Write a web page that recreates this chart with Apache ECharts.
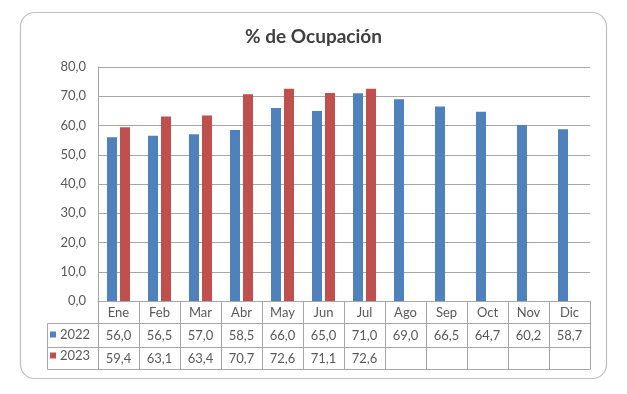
<!DOCTYPE html>
<html><head><meta charset="utf-8">
<script src="https://cdn.jsdelivr.net/npm/echarts@6/dist/echarts.min.js"></script>
<style>html,body{margin:0;padding:0;background:#fff}#c{width:627px;height:394px}</style>
</head><body><div id="c"></div>
<script>
const categories = ['Ene','Feb','Mar','Abr','May','Jun','Jul','Ago','Sep','Oct','Nov','Dic'];
const seriesNames = ['2022','2023'];
const values2022 = [56.0,56.5,57.0,58.5,66.0,65.0,71.0,69.0,66.5,64.7,60.2,58.7];
const values2023 = [59.4,63.1,63.4,70.7,72.6,71.1,72.6,null,null,null,null,null];
const yTicks = {min:0, max:80, interval:10};

const W = 627, H = 394;
const G = {left:98, right:37, top:67, bottom:93};
const rowH = 23;
const tableLeft = 47;
const FONT = 'Lato';
const TXT = '#595959';
const LINE = '#a6a6a6';
const fmt = v => (v == null || v === '') ? '' : Number(v).toFixed(1).replace('.', ',');

const chart = echarts.init(document.getElementById('c'), null, {renderer:'canvas'});
const axisY = H - G.bottom;
const gx0 = G.left, gx1 = W - G.right;

const tableLines = [
  [tableLeft, axisY + rowH - 1, gx1, axisY + rowH - 1],
  [tableLeft, axisY + 2*rowH, gx1, axisY + 2*rowH],
  [tableLeft, axisY + 3*rowH - 1, gx1, axisY + 3*rowH - 1],
  [tableLeft, axisY + rowH - 1, tableLeft, axisY + 3*rowH - 1]
].map(p => ({type:'line', silent:true, shape:{x1:p[0]+0.5,y1:p[1]+0.5,x2:p[2]+0.5,y2:p[3]+0.5}, style:{stroke:LINE, lineWidth:1}}));

function valueAxis(vals, off){
  return {
    type:'category', data: categories, position:'bottom', offset: off, gridIndex:0,
    axisLine:{show:false}, axisTick:{show:false}, splitLine:{show:false},
    axisLabel:{interval:0, margin:5, color:TXT, fontFamily:FONT, fontSize:13,
      formatter:(v, i) => fmt(vals[i])}
  };
}

chart.setOption({
  animation:false,
  backgroundColor:'#fff',
  title:{text:'% de Ocupación', left:'center', top:22,
    textStyle:{fontFamily:FONT, fontSize:19, fontWeight:'bold', color:'#404040'}},
  legend:{orient:'vertical', left:45, top:axisY + rowH - 1, itemWidth:6, itemHeight:6, itemGap:8,
    icon:'rect', data:seriesNames,
    textStyle:{fontFamily:FONT, fontSize:13, color:TXT, padding:[0,0,0,-1]}},
  grid:{left:G.left, right:G.right, top:G.top, bottom:G.bottom, containLabel:false},
  xAxis:[
    {type:'category', data:categories, position:'bottom',
      axisLine:{show:true, lineStyle:{color:LINE}},
      axisTick:{show:true, interval:0, length:3*rowH - 1, lineStyle:{color:LINE}},
      axisLabel:{interval:0, margin:5, color:TXT, fontFamily:FONT, fontSize:13}},
    valueAxis(values2022, rowH),
    valueAxis(values2023, 2*rowH)
  ],
  yAxis:{type:'value', min:yTicks.min, max:yTicks.max, interval:yTicks.interval,
    axisLine:{show:true, lineStyle:{color:LINE}}, axisTick:{show:false},
    splitLine:{show:true, lineStyle:{color:LINE}},
    axisLabel:{margin:12, color:TXT, fontFamily:FONT, fontSize:13, formatter:v => fmt(v)}},
  series:[
    {name:seriesNames[0], type:'bar', data:values2022, barWidth:10, barGap:'30%',
      itemStyle:{color:'#4f81bd'}},
    {name:seriesNames[1], type:'bar', data:values2023, barWidth:10, barGap:'30%',
      itemStyle:{color:'#c0504d'}}
  ],
  graphic:[
    {type:'rect', silent:true, shape:{x:20.5, y:12.5, width:586, height:366, r:14},
      style:{fill:'none', stroke:'#bfbfbf', lineWidth:1.2}, z:-1},
    ...tableLines
  ]
});
</script></body></html>
